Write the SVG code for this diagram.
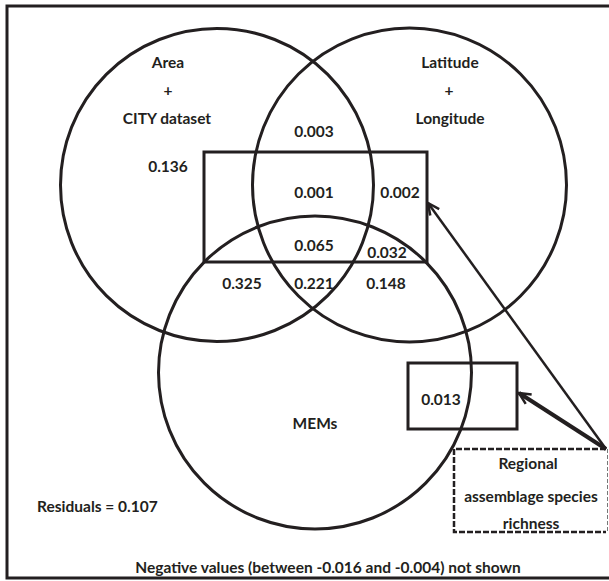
<svg xmlns="http://www.w3.org/2000/svg" width="609" height="581" viewBox="0 0 609 581">
<style>
text{font-family:Lato,"Open Sans","Liberation Sans",sans-serif;font-weight:bold;font-size:15.5px;fill:#231f20;text-anchor:middle}
.c{fill:none;stroke:#231f20;stroke-width:3}
.b{fill:none;stroke:#231f20;stroke-width:3}
.ln{fill:none;stroke:#231f20}
</style>
<defs>
<marker id="ah" viewBox="0 0 14 14" refX="12.5" refY="7" markerWidth="14" markerHeight="14" markerUnits="userSpaceOnUse" orient="auto">
<path d="M1,1.5 L12.5,7 L1,12.5" fill="none" stroke="#231f20" stroke-width="2.5"/>
</marker>
</defs>
<rect width="609" height="581" fill="#fff"/>
<path class="b" d="M612,6 H7 V578 H612"/>
<g id="circle-area"><circle class="c" cx="217" cy="185" r="156.5"/>
<text x="168" y="68">Area</text><text x="168" y="96">+</text><text x="167" y="124">CITY dataset</text></g>
<g id="circle-latlon"><circle class="c" cx="409.5" cy="185" r="157"/>
<text x="450" y="68">Latitude</text><text x="449" y="96">+</text><text x="450" y="124">Longitude</text></g>
<g id="circle-mems"><circle class="c" cx="315" cy="372.5" r="156.5"/>
<text x="315" y="429">MEMs</text></g>
<g id="box-main"><rect class="b" x="204" y="152" width="223" height="110"/></g>
<g id="box-013"><rect class="b" x="408" y="363" width="109" height="66"/>
<text x="441" y="405">0.013</text></g>
<g id="values">
<text x="314" y="137">0.003</text>
<text x="168" y="172">0.136</text>
<text x="314" y="198">0.001</text>
<text x="400" y="198">0.002</text>
<text x="314" y="251">0.065</text>
<text x="387" y="258">0.032</text>
<text x="242" y="289">0.325</text>
<text x="314" y="289">0.221</text>
<text x="386" y="289">0.148</text>
</g>
<g id="richness">
<path d="M606,449 H454 V532 H606" fill="none" stroke="#231f20" stroke-width="2.5" stroke-dasharray="6,2"/>
<path d="M607.5,449 V532" fill="none" stroke="#777" stroke-width="1" stroke-dasharray="4,2"/>
<text x="528" y="469">Regional</text>
<text x="531" y="502">assemblage species</text>
<text x="531" y="529">richness</text>
</g>
<g id="connectors">
<line class="ln" x1="606" y1="449" x2="428" y2="203" stroke-width="2.5" marker-end="url(#ah)"/>
<line class="ln" x1="606" y1="449" x2="519" y2="393" stroke-width="4" marker-end="url(#ah)"/>
</g>
<text x="37" y="512" style="text-anchor:start">Residuals = 0.107</text>
<text x="328" y="573">Negative values (between -0.016 and -0.004) not shown</text>
</svg>
